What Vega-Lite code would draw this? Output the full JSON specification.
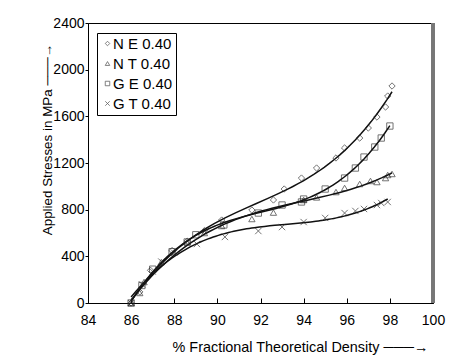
{
  "$schema": "https://vega.github.io/schema/vega-lite/v6.json",
  "width": 345,
  "height": 280,
  "autosize": {"type": "none"},
  "padding": {"left": 88, "top": 23, "right": 32, "bottom": 56},
  "background": "white",
  "config": {
    "font": "Liberation Sans",
    "view": {"stroke": "#000", "strokeWidth": 1},
    "axis": {"grid": false, "domainColor": "#000", "tickColor": "#000", "labelColor": "#000", "titleColor": "#000", "labelFont": "Liberation Sans", "titleFont": "Liberation Sans", "labelFontSize": 14, "titleFontSize": 13.4, "titleFontWeight": "normal", "labelFlush": false}
  },
  "data": {
    "values": [
      {"series": "N E 0.40", "x": 86.0, "y": 0},
      {"series": "N E 0.40", "x": 86.4, "y": 95},
      {"series": "N E 0.40", "x": 86.9, "y": 280},
      {"series": "N E 0.40", "x": 87.9, "y": 450},
      {"series": "N E 0.40", "x": 88.6, "y": 530},
      {"series": "N E 0.40", "x": 89.4, "y": 620},
      {"series": "N E 0.40", "x": 90.2, "y": 711},
      {"series": "N E 0.40", "x": 91.6, "y": 797},
      {"series": "N E 0.40", "x": 92.6, "y": 883},
      {"series": "N E 0.40", "x": 93.1, "y": 977},
      {"series": "N E 0.40", "x": 93.9, "y": 1071},
      {"series": "N E 0.40", "x": 94.6, "y": 1157},
      {"series": "N E 0.40", "x": 95.5, "y": 1243},
      {"series": "N E 0.40", "x": 95.9, "y": 1329},
      {"series": "N E 0.40", "x": 96.6, "y": 1414},
      {"series": "N E 0.40", "x": 97.0, "y": 1500},
      {"series": "N E 0.40", "x": 97.4, "y": 1594},
      {"series": "N E 0.40", "x": 97.8, "y": 1680},
      {"series": "N E 0.40", "x": 97.9, "y": 1774},
      {"series": "N E 0.40", "x": 98.1, "y": 1860},
      {"series": "N T 0.40", "x": 86.0, "y": 0},
      {"series": "N T 0.40", "x": 86.4, "y": 86},
      {"series": "N T 0.40", "x": 86.6, "y": 180},
      {"series": "N T 0.40", "x": 87.4, "y": 351},
      {"series": "N T 0.40", "x": 88.6, "y": 520},
      {"series": "N T 0.40", "x": 89.4, "y": 600},
      {"series": "N T 0.40", "x": 90.2, "y": 660},
      {"series": "N T 0.40", "x": 91.6, "y": 720},
      {"series": "N T 0.40", "x": 92.6, "y": 775},
      {"series": "N T 0.40", "x": 94.0, "y": 883},
      {"series": "N T 0.40", "x": 94.6, "y": 905},
      {"series": "N T 0.40", "x": 95.5, "y": 951},
      {"series": "N T 0.40", "x": 95.9, "y": 986},
      {"series": "N T 0.40", "x": 96.6, "y": 1020},
      {"series": "N T 0.40", "x": 97.1, "y": 1046},
      {"series": "N T 0.40", "x": 97.4, "y": 1037},
      {"series": "N T 0.40", "x": 97.8, "y": 1071},
      {"series": "N T 0.40", "x": 97.9, "y": 1097},
      {"series": "N T 0.40", "x": 98.1, "y": 1106},
      {"series": "G E 0.40", "x": 86.0, "y": 0},
      {"series": "G E 0.40", "x": 86.5, "y": 150},
      {"series": "G E 0.40", "x": 87.0, "y": 290},
      {"series": "G E 0.40", "x": 87.9, "y": 440},
      {"series": "G E 0.40", "x": 88.6, "y": 523},
      {"series": "G E 0.40", "x": 89.0, "y": 585},
      {"series": "G E 0.40", "x": 90.3, "y": 669},
      {"series": "G E 0.40", "x": 91.9, "y": 771},
      {"series": "G E 0.40", "x": 93.0, "y": 840},
      {"series": "G E 0.40", "x": 93.9, "y": 866},
      {"series": "G E 0.40", "x": 94.0, "y": 891},
      {"series": "G E 0.40", "x": 95.0, "y": 977},
      {"series": "G E 0.40", "x": 95.9, "y": 1071},
      {"series": "G E 0.40", "x": 96.4, "y": 1157},
      {"series": "G E 0.40", "x": 96.8, "y": 1251},
      {"series": "G E 0.40", "x": 97.3, "y": 1337},
      {"series": "G E 0.40", "x": 97.6, "y": 1414},
      {"series": "G E 0.40", "x": 98.0, "y": 1517},
      {"series": "G T 0.40", "x": 86.0, "y": 0},
      {"series": "G T 0.40", "x": 86.5, "y": 160},
      {"series": "G T 0.40", "x": 87.0, "y": 270},
      {"series": "G T 0.40", "x": 87.4, "y": 355},
      {"series": "G T 0.40", "x": 88.0, "y": 430},
      {"series": "G T 0.40", "x": 89.05, "y": 506},
      {"series": "G T 0.40", "x": 90.35, "y": 566},
      {"series": "G T 0.40", "x": 91.9, "y": 617},
      {"series": "G T 0.40", "x": 93.0, "y": 651},
      {"series": "G T 0.40", "x": 94.0, "y": 694},
      {"series": "G T 0.40", "x": 95.0, "y": 729},
      {"series": "G T 0.40", "x": 95.9, "y": 771},
      {"series": "G T 0.40", "x": 96.4, "y": 789},
      {"series": "G T 0.40", "x": 96.8, "y": 806},
      {"series": "G T 0.40", "x": 97.4, "y": 840},
      {"series": "G T 0.40", "x": 97.6, "y": 857},
      {"series": "G T 0.40", "x": 97.9, "y": 866}
    ]
  },
  "encoding": {
    "x": {"field": "x", "type": "quantitative", "scale": {"domain": [84, 100], "nice": false},
      "axis": {"values": [84, 86, 88, 90, 92, 94, 96, 98, 100], "format": "d", "tickSize": -5, "labelPadding": 15, "title": "% Fractional Theoretical Density  ───→", "titleFontSize": 14.4, "titleX": 212, "titleY": 37, "titleBaseline": "top", "titleAlign": "center"}},
    "y": {"field": "y", "type": "quantitative", "scale": {"domain": [0, 2400], "nice": false},
      "axis": {"values": [0, 400, 800, 1200, 1600, 2000, 2400], "format": "d", "tickSize": 3, "labelPadding": 1, "title": "Applied Stresses in MPa  ───→", "titleX": -41, "titleY": 116, "titleAlign": "center", "titleBaseline": "middle", "titleAngle": -90}}
  },
  "layer": [
    {
      "transform": [{"regression": "y", "on": "x", "groupby": ["series"], "method": "poly", "order": 3}],
      "mark": {"type": "line", "color": "#111", "strokeWidth": 1.5},
      "encoding": {"detail": {"field": "series"}}
    },
    {
      "mark": {"type": "point", "filled": false, "color": "#222", "strokeWidth": 0.9, "size": 40},
      "encoding": {
        "shape": {"field": "series", "type": "nominal",
          "scale": {"domain": ["N E 0.40", "N T 0.40", "G E 0.40", "G T 0.40"], "range": ["diamond", "triangle-up", "square", "M-1,-1L1,1M1,-1L-1,1"]},
          "legend": {"title": null, "orient": "none", "legendX": 9, "legendY": 10, "padding": 3, "rowPadding": 4, "labelFontSize": 15, "labelFont": "Liberation Sans", "labelColor": "#000", "symbolSize": 20, "symbolStrokeWidth": 0.8, "symbolStrokeColor": "#222", "symbolFillColor": "transparent", "labelOffset": -2, "strokeColor": "#000", "fillColor": "white"}}
      }
    },
    {
      "mark": {"type": "rule", "color": "#777", "strokeWidth": 2.5},
      "encoding": {"x": {"datum": 100}, "y": {"datum": 0}, "y2": {"datum": 2400}}
    }
  ]
}
